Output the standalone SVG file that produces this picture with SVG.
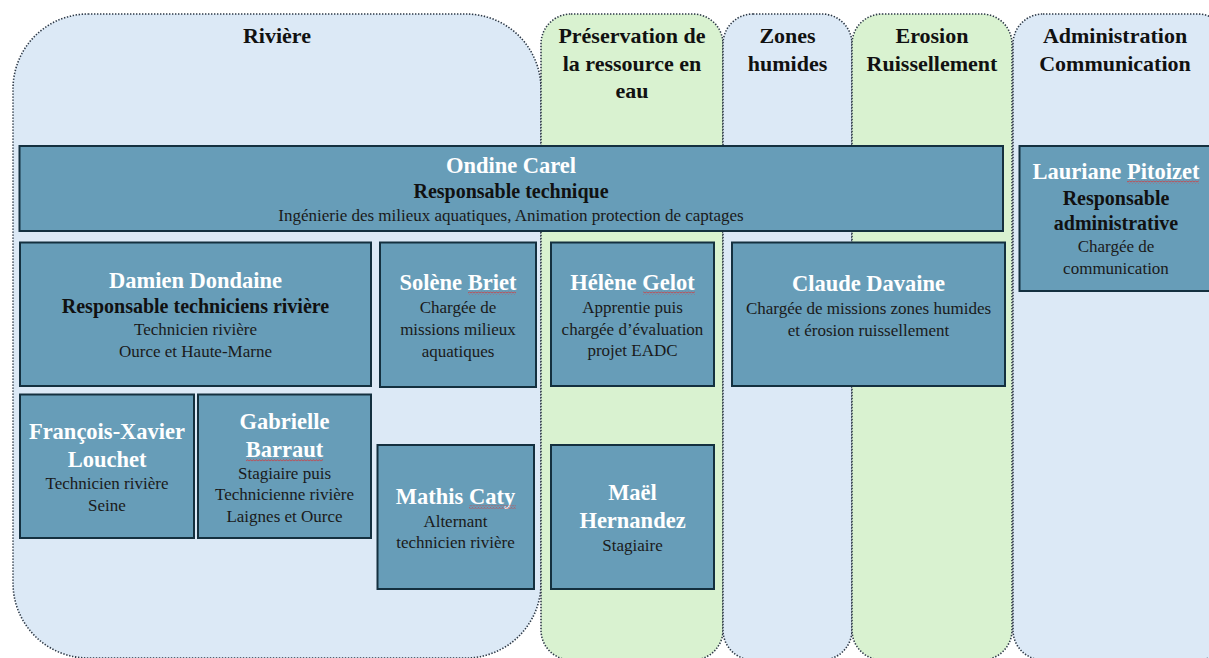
<svg xmlns="http://www.w3.org/2000/svg" width="1209" height="658" viewBox="0 0 1209 658">
<style>
.col{stroke:#2e3a48;stroke-width:1.6;stroke-dasharray:1.4 1.6}
.blue{fill:#dce9f6}
.green{fill:#d9f2d0}
.box{fill:#679db8;stroke:#14303f;stroke-width:2}
text{font-family:"Liberation Serif","Times New Roman",serif;text-anchor:middle}
.hd{font-size:22px;font-weight:bold;fill:#111}
.nm{font-size:22.5px;font-weight:bold;fill:#ffffff}
.rl{font-size:20px;font-weight:bold;fill:#111}
.tx{font-size:17px;fill:#1a1a1a}
.sp{fill:url(#wavy)}
</style>
<defs>
<pattern id="wavy" x="0" y="0" width="3" height="3" patternUnits="userSpaceOnUse">
<path d="M0,2.4 L1.5,0.6 L3,2.4" fill="none" stroke="#d33" stroke-width="0.8"/>
</pattern>
</defs>
<rect width="1209" height="658" fill="#ffffff"/>
<g id="col-riviere">
<rect class="col blue" x="13" y="14" width="528" height="644" rx="75"/>
<text class="hd" x="277" y="43">Rivière</text>
</g>
<g id="col-preservation">
<rect class="col green" x="541" y="14" width="182" height="646" rx="30"/>
<text class="hd" x="632" y="43">Préservation de</text>
<text class="hd" x="632" y="70.5">la ressource en</text>
<text class="hd" x="632" y="98">eau</text>
</g>
<g id="col-zones">
<rect class="col blue" x="723" y="14" width="129" height="646" rx="30"/>
<text class="hd" x="787.5" y="43">Zones</text>
<text class="hd" x="787.5" y="70.5">humides</text>
</g>
<g id="col-erosion">
<rect class="col green" x="852" y="14" width="160" height="646" rx="30"/>
<text class="hd" x="932" y="43">Erosion</text>
<text class="hd" x="932" y="70.5">Ruissellement</text>
</g>
<g id="col-admin">
<rect class="col blue" x="1013" y="14" width="215" height="646" rx="30"/>
<text class="hd" x="1115" y="43">Administration</text>
<text class="hd" x="1115" y="70.5">Communication</text>
</g>
<g id="connectors"></g>
<g id="ondine-carel">
<rect class="box" x="19.5" y="146" width="983.5" height="85"/>
<text class="nm" x="511" y="173">Ondine Carel</text>
<text class="rl" x="511" y="198">Responsable technique</text>
<text class="tx" x="511" y="221">Ingénierie des milieux aquatiques, Animation protection de captages</text>
</g>
<g id="lauriane-pitoizet">
<rect class="box" x="1019.5" y="146" width="200" height="145"/>
<text class="nm" x="1116" y="179">Lauriane Pitoizet</text>
<rect class="sp" x="1127" y="180.5" width="72" height="3"/>
<text class="rl" x="1116" y="205">Responsable</text>
<text class="rl" x="1116" y="230">administrative</text>
<text class="tx" x="1116" y="252">Chargée de</text>
<text class="tx" x="1116" y="274">communication</text>
</g>
<g id="damien-dondaine">
<rect class="box" x="20" y="242.5" width="351" height="143.5"/>
<text class="nm" x="195.5" y="288">Damien Dondaine</text>
<text class="rl" x="195.5" y="313">Responsable techniciens rivière</text>
<text class="tx" x="195.5" y="335">Technicien rivière</text>
<text class="tx" x="195.5" y="357">Ource et Haute-Marne</text>
</g>
<g id="solene-briet">
<rect class="box" x="380" y="242.5" width="156" height="144.5"/>
<text class="nm" x="458" y="290">Solène Briet</text>
<rect class="sp" x="468" y="291.5" width="48" height="3"/>
<text class="tx" x="458" y="313">Chargée de</text>
<text class="tx" x="458" y="335">missions milieux</text>
<text class="tx" x="458" y="357">aquatiques</text>
</g>
<g id="helene-gelot">
<rect class="box" x="551" y="242.5" width="163" height="143.5"/>
<text class="nm" x="632.5" y="290">Hélène Gelot</text>
<rect class="sp" x="643" y="291.5" width="52" height="3"/>
<text class="tx" x="632.5" y="313">Apprentie puis</text>
<text class="tx" x="632.5" y="335">chargée d’évaluation</text>
<text class="tx" x="632.5" y="356">projet EADC</text>
</g>
<g id="claude-davaine">
<rect class="box" x="732" y="242.5" width="273" height="143.5"/>
<text class="nm" x="868.5" y="291">Claude Davaine</text>
<text class="tx" x="868.5" y="314">Chargée de missions zones humides</text>
<text class="tx" x="868.5" y="336">et érosion ruissellement</text>
</g>
<g id="francois-xavier-louchet">
<rect class="box" x="20" y="394.5" width="174" height="143.5"/>
<text class="nm" x="107" y="439">François-Xavier</text>
<text class="nm" x="107" y="467">Louchet</text>
<text class="tx" x="107" y="489">Technicien rivière</text>
<text class="tx" x="107" y="511">Seine</text>
</g>
<g id="gabrielle-barraut">
<rect class="box" x="198" y="394.5" width="173" height="143.5"/>
<text class="nm" x="284.5" y="429">Gabrielle</text>
<text class="nm" x="284.5" y="457">Barraut</text>
<rect class="sp" x="246" y="458.5" width="77" height="3"/>
<text class="tx" x="284.5" y="479">Stagiaire puis</text>
<text class="tx" x="284.5" y="500">Technicienne rivière</text>
<text class="tx" x="284.5" y="522">Laignes et Ource</text>
</g>
<g id="mathis-caty">
<rect class="box" x="377.5" y="445" width="156.5" height="144"/>
<text class="nm" x="455.5" y="504">Mathis Caty</text>
<rect class="sp" x="469" y="505.5" width="47" height="3"/>
<text class="tx" x="455.5" y="527">Alternant</text>
<text class="tx" x="455.5" y="548">technicien rivière</text>
</g>
<g id="mael-hernandez">
<rect class="box" x="551" y="445" width="163" height="144"/>
<text class="nm" x="632.5" y="500">Maël</text>
<text class="nm" x="632.5" y="528">Hernandez</text>
<text class="tx" x="632.5" y="551">Stagiaire</text>
</g>
</svg>
